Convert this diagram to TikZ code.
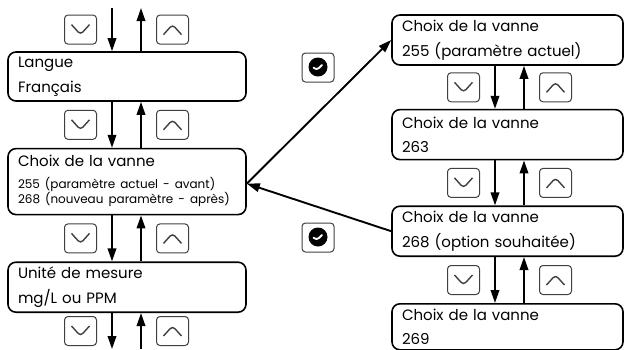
\documentclass[tikz,border=0pt]{standalone}
\usepackage{fontspec}
\setmainfont{Poppins}
\usetikzlibrary{arrows.meta, positioning, calc}
\tikzset{
    %Define standard arrow tip
    >={Triangle[length=13pt,width=8.5pt]},
}

\begin{document}
\begin{tikzpicture}[x=1pt, y=-1pt]
	\tikzset{
	  vbox/.style={draw, fill=white,
	             shape=rectangle,
	             line width=1.6pt,
	             rounded corners=8pt,
	             inner xsep=10pt, inner ysep=0pt,
	             align=left,
	             font=\fontsize{15}{24.5}\selectfont},
	  lbox/.style={vbox, text width=218pt, minimum width=238pt},
	  rbox/.style={vbox, text width=211pt, minimum width=231pt},
	  key/.style={draw=black!75, line width=1pt, rounded corners=3.5pt,
	             minimum width=32pt, minimum height=29pt, inner sep=0pt},
	  downkey/.style={key, path picture={
	      \draw[line width=1.4pt] ([shift={(-9pt,5pt)}]path picture bounding box.center)
	        -- ++(9pt,-10pt) -- ++(9pt,10pt);}},
	  upkey/.style={key, path picture={
	      \draw[line width=1.4pt] ([shift={(-9pt,-5pt)}]path picture bounding box.center)
	        -- ++(9pt,10pt) -- ++(9pt,-10pt);}},
	  okkey/.style={key, path picture={
	      \fill ([yshift=0.5pt]path picture bounding box.center) circle (9.5pt);
	      \draw[white, line width=1.8pt, line cap=round, line join=round]
	        ([shift={(-4.5pt,0pt)}]path picture bounding box.center)
	        -- ++(3pt,-3pt) -- ++(5.5pt,5.5pt);}},
	  flow/.style={line width=1.9pt, ->}
	}
	\useasboundingbox (0,0) rectangle (625,349);

	% left column
	\node[lbox, minimum height=49pt] (langue) at (127,76.5) {Langue\\Français};
	\node[lbox, minimum height=66pt, below=46pt of langue] (choixL)
	  {Choix de la vanne\\[-2.5pt]{\fontsize{12}{15}\selectfont
	   \begin{tabular}[t]{@{}l@{}}255 (paramètre actuel - avant)\\268 (nouveau paramètre - après)\end{tabular}}};
	\node[lbox, minimum height=50pt, below=46pt of choixL] (unite) {Unité de mesure\\mg/L ou PPM};

	% right column
	\node[rbox, minimum height=50pt] (vanneA) at (507.5,40) {Choix de la vanne\\255 (paramètre actuel)};
	\node[rbox, minimum height=50pt, below=43pt of vanneA] (vanneB) {Choix de la vanne\\263};
	\node[rbox, minimum height=50pt, below=45pt of vanneB] (vanneC) {Choix de la vanne\\268 (option souhaitée)};
	\node[rbox, minimum height=46pt, below=46pt of vanneC] (vanneD) {Choix de la vanne\\269};

	% free ends
	\coordinate (topdn) at (112,8);
	\coordinate (topup) at (141,8);
	\coordinate (botdn) at (112,349);
	\coordinate (botup) at (141,349);

	\draw[flow] (topdn) -- (topdn |- langue.north);
	\draw[flow] (topup |- langue.north) -- (topup);
	\node[downkey, left=15pt of {$(topdn)!0.5!(topdn |- langue.north)$}] (kd0) {};
	\node[upkey, right=15pt of {$(topup)!0.5!(topup |- langue.north)$}] (ku0) {};

	\draw[flow] (unite.south -| botdn) -- (botdn);
	\draw[flow] (botup) -- (unite.south -| botup);
	\node[downkey, left=15pt of {$(botdn)!0.5!(unite.south -| botdn)$}] (kd3) {};
	\node[upkey, right=15pt of {$(botup)!0.5!(unite.south -| botup)$}] (ku3) {};

	% steps between boxes
	\foreach \a/\b/\dx/\ux/\n in {langue/choixL/-15/14/1, choixL/unite/-15/14/2,
	    vanneA/vanneB/-12.5/16.5/4, vanneB/vanneC/-12.5/16.5/5, vanneC/vanneD/-12.5/16.5/6}{
	  \draw[flow] ([xshift=\dx pt]\a.south) -- ([xshift=\dx pt]\b.north);
	  \draw[flow] ([xshift=\ux pt]\b.north) -- ([xshift=\ux pt]\a.south);
	  \node[downkey, left=15pt of {$([xshift=\dx pt]\a.south)!0.5!([xshift=\dx pt]\b.north)$}] (kd\n) {};
	  \node[upkey, right=15pt of {$([xshift=\ux pt]\a.south)!0.5!([xshift=\ux pt]\b.north)$}] (ku\n) {};
	}

	% confirm
	\draw[flow] ([yshift=-2pt]choixL.east) -- (vanneA.west);
	\draw[flow] (vanneC.west) -- ([yshift=-2pt]choixL.east);
	\node[okkey] (okA) at (318,67.5) {};
	\node[okkey] (okC) at (318,237.5) {};

\end{tikzpicture}
\end{document}
